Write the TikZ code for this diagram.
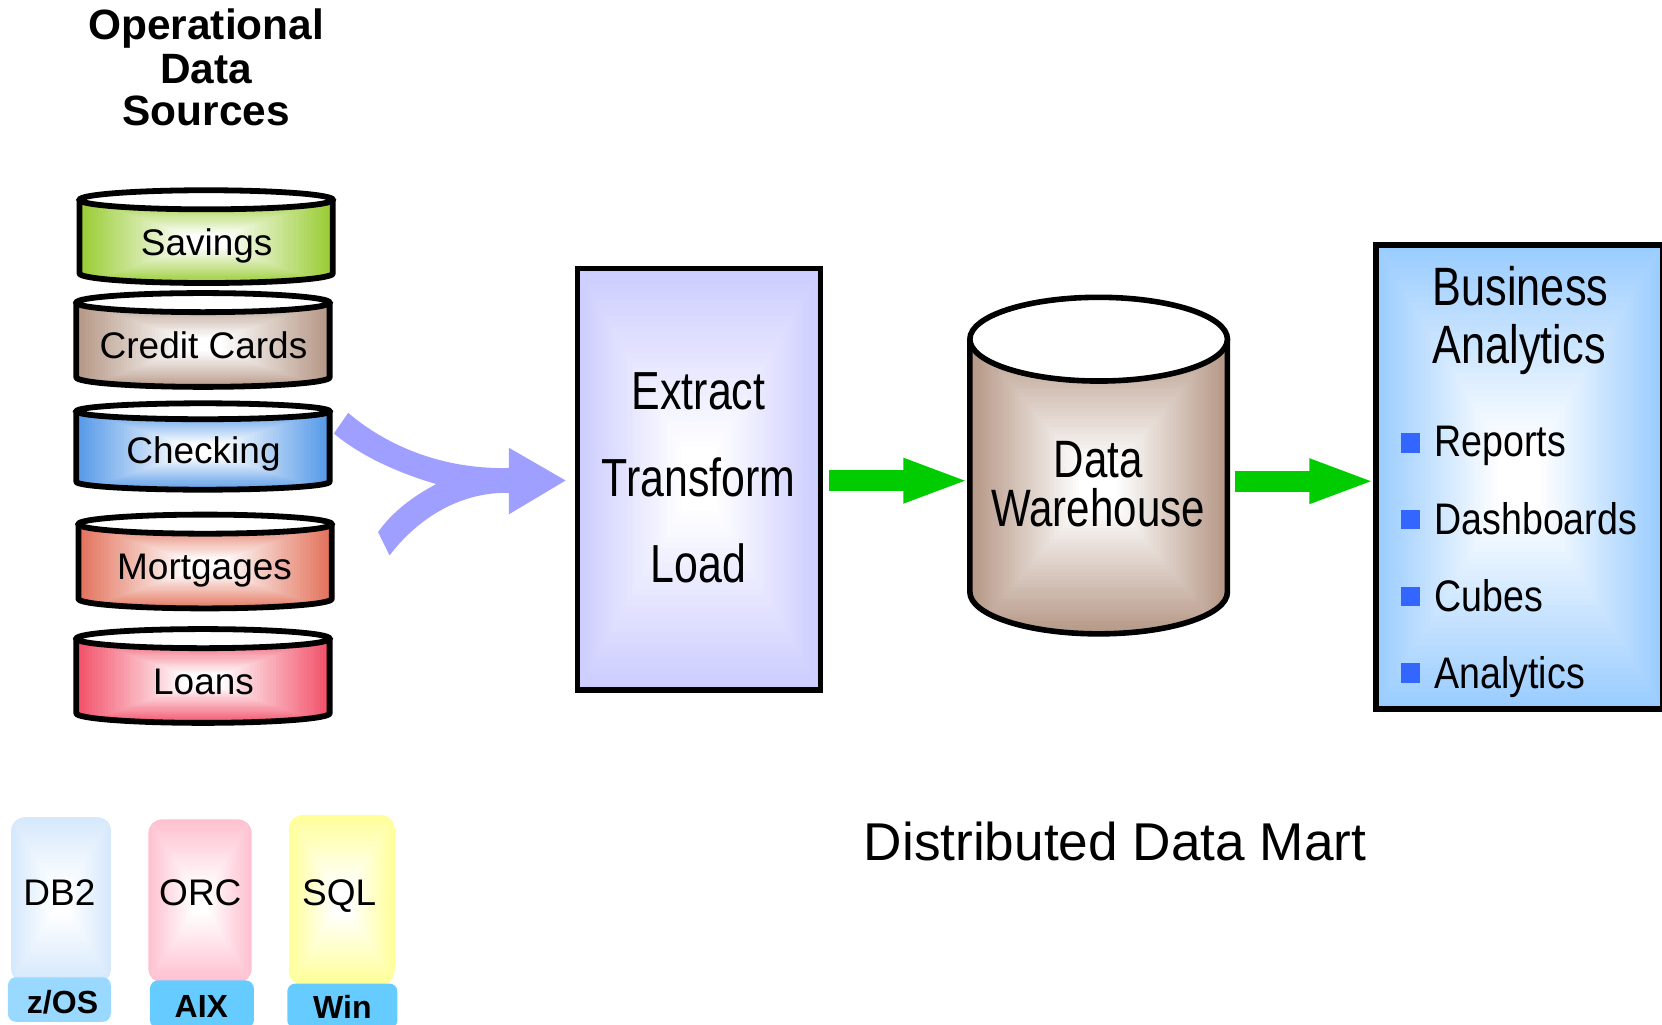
\documentclass[tikz,border=0pt]{standalone}
\usepackage{fontspec}
\setmainfont{Liberation Sans}
\newfontfamily\narrowfont[FakeStretch=0.8]{Liberation Sans}
\newfontfamily\listfont[FakeStretch=0.85]{Liberation Sans}
\usetikzlibrary{arrows.meta}
\definecolor{brownc}{HTML}{B59785}
\definecolor{greenc}{HTML}{99CC33}
\definecolor{bluec}{HTML}{5599E8}
\definecolor{salmonc}{HTML}{E2725B}
\definecolor{redc}{HTML}{F25068}
\definecolor{etlc}{HTML}{CCCCFF}
\definecolor{bac}{HTML}{99CCFF}
\definecolor{db2c}{HTML}{D5E8FC}
\definecolor{orcc}{HTML}{FFC0D0}
\definecolor{sqlc}{HTML}{FFFF99}
\definecolor{tabone}{HTML}{99D9FF}
\definecolor{tabtwo}{HTML}{66CCFF}
\definecolor{arrowc}{HTML}{00CC00}
\definecolor{mergec}{HTML}{9F9FFF}
\definecolor{bulletc}{HTML}{3366FF}
% nested rectangles: colour at the rim, white at the centre
\newcommand{\gradfill}[5]{%
  \foreach \i in {0,...,39}{%
    \pgfmathsetmacro\ff{1-\i/40}%
    \pgfmathsetmacro\pp{max(0,100*(1-\i/34))}%
    \fill[#5!\pp!white] ({#1-#3*\ff},{#2-#4*\ff}) rectangle ({#1+#3*\ff},{#2+#4*\ff});
  }%
}
% centre x, radius x, top centre y, bottom centre y, radius y, colour, line width
\newcommand{\drum}[7]{%
  \begin{scope}
    \clip (#1-#2,#3) arc[start angle=180,end angle=0,x radius=#2,y radius=#5] -- (#1+#2,#4)
      arc[start angle=0,end angle=180,x radius=#2,y radius=#5] -- cycle;
    \pgfmathsetmacro\gy{(#3+#4)/2+#5/2}
    \pgfmathsetmacro\gh{(#4-#3)/2+#5/2+2}
    \gradfill{#1}{\gy}{#2}{\gh}{#6}
  \end{scope}
  \draw[line width=#7,line join=round] (#1-#2,#3) -- (#1-#2,#4)
      arc[start angle=180,end angle=0,x radius=#2,y radius=#5] -- (#1+#2,#3);
  \draw[line width=#7,fill=white] (#1,#3) ellipse[x radius=#2,y radius=#5];
}
\newcommand{\softbox}[6]{% x0,y0,x1,y1,colour,radius
  \begin{scope}
    \clip[rounded corners=#6] (#1,#2) rectangle (#3,#4);
    \gradfill{(#1+#3)/2}{(#2+#4)/2}{(#3-#1)/2}{(#4-#2)/2}{#5}
  \end{scope}
}
\tikzset{
  x=0.53pt,y=-0.53pt,
  drumtext/.style={anchor=base,inner sep=0pt,font=\fontsize{18.5}{22}\selectfont},
  headtext/.style={anchor=base,inner sep=0pt,font=\fontsize{21.2}{24}\selectfont\bfseries},
  bigtext/.style={anchor=base,inner sep=0pt,font=\fontsize{26.8}{30}\selectfont\narrowfont},
  listtext/.style={anchor=base west,inner sep=0pt,font=\fontsize{22.1}{26}\selectfont\listfont},
  tabtext/.style={anchor=base,inner sep=0pt,font=\fontsize{16}{19}\selectfont\bfseries},
  frame/.style={draw=black,inner sep=0pt,line width=2.7pt},
  flow/.style={line width=10.3pt,draw=arrowc,-{Triangle[length=33.5pt,width=20pt]}},
  bulletsq/.style={fill=bulletc,draw=none,inner sep=0pt,minimum size=9.6pt},
}
\begin{document}
\begin{tikzpicture}
\useasboundingbox (0,0) rectangle (1568,967);
% heading
\node[headtext] (h1) at (194.5,37) {Operational};
\node[headtext] (h2) at (194.5,78.5) {Data};
\node[headtext] (h3) at (194.5,118.5) {Sources};
% source drums
\drum{194.5}{119.5}{188.5}{258}{9}{greenc}{2.9pt}
\node[drumtext] (savings) at (195,241) {Savings};
\drum{191.5}{119.5}{285.5}{356}{9}{brownc}{2.9pt}
\node[drumtext] (credit) at (192,338) {Credit Cards};
\drum{191.5}{119.5}{388}{454.5}{7.5}{bluec}{2.9pt}
\node[drumtext] (checking) at (192,437) {Checking};
\drum{193.5}{119.5}{494.5}{565}{9}{salmonc}{2.9pt}
\node[drumtext] (mortgages) at (193,547) {Mortgages};
\drum{191.5}{119.5}{602.5}{673}{9}{redc}{2.9pt}
\node[drumtext] (loans) at (192,655) {Loans};
% merging arrow
\fill[mergec] (328.5,389.5) .. controls (370,425) and (425,443) .. (480,441.5)
  -- (480,422.4) -- (533.6,453.3) -- (480,485.3) -- (480,465)
  .. controls (435,464) and (395,488) .. (367.5,524)
  -- (356.7,502) .. controls (370,483) and (390,468) .. (411.6,456.7)
  .. controls (375,446) and (340,430) .. (315,409) -- cycle;
% ETL
\gradfill{659.5}{452}{114.5}{199}{etlc}
\node[frame,minimum width=121.4pt,minimum height=210.9pt] (etl) at (659.5,452) {};
\node[bigtext] (extract) at (659,386) {Extract};
\node[bigtext] (transform) at (659,468) {Transform};
\node[bigtext] (load) at (659,550) {Load};
% warehouse
\drum{1036.5}{121.5}{320}{558.5}{39.5}{brownc}{2.8pt}
\coordinate (dwl) at (915,453.5);
\coordinate (dwr) at (1158,454);
\node[bigtext,font=\fontsize{26.3}{30}\selectfont\narrowfont] (data) at (1036,450.5) {Data};
\node[bigtext,font=\fontsize{26.3}{30}\selectfont\narrowfont] (warehouse) at (1036,497) {Warehouse};
% analytics panel
\gradfill{1433.5}{450}{135.5}{219}{bac}
\node[frame,line width=2.9pt,minimum width=143.5pt,minimum height=232.3pt] (ba) at (1433.5,450) {};
\node[bigtext,anchor=base west,font=\fontsize{27}{30}\selectfont\narrowfont] (business) at (1351.5,288.5) {Business};
\node[bigtext,anchor=base west,font=\fontsize{27}{30}\selectfont\narrowfont] (analytics) at (1351.5,342.5) {Analytics};
\node[bulletsq] (b1) at (1331,418) {};
\node[bulletsq] (b2) at (1331,490) {};
\node[bulletsq] (b3) at (1331,563) {};
\node[bulletsq] (b4) at (1331,635) {};
\node[listtext] (reports) at (1353,431) {Reports};
\node[listtext] (dash) at (1353,504) {Dashboards};
\node[listtext] (cubes) at (1353,576.5) {Cubes};
\node[listtext] (anal) at (1353,649.5) {Analytics};
% green arrows
\draw[flow] (etl.east |- dwl) ++(3pt,0) -- ([xshift=0.2pt]dwl);
\draw[flow] ([xshift=3.6pt]dwr) -- ([xshift=1.6pt]ba.west |- dwr);
% title
\node[drumtext,font=\fontsize{26.6}{30}\selectfont] (mart) at (1052,812) {Distributed Data Mart};
% platforms
\softbox{10.5}{771}{105}{927}{db2c}{7pt}
\softbox{140}{773}{237.5}{927}{orcc}{7pt}
\softbox{272.5}{769}{372.5}{929}{sqlc}{7pt}
\fill[tabone,rounded corners=4pt] (7.5,922) rectangle (104.5,964);
\fill[tabtwo,rounded corners=4pt] (141.5,925) rectangle (239.5,970);
\fill[tabtwo,rounded corners=4pt] (271,928) rectangle (375,970);
\node[drumtext] (db2) at (56,854) {DB2};
\node[drumtext] (orc) at (189,854) {ORC};
\node[drumtext] (sql) at (320,854) {SQL};
\node[tabtext] (zos) at (59,956) {z/OS};
\node[tabtext] (aix) at (190,960) {AIX};
\node[tabtext] (win) at (323,961) {Win};
\end{tikzpicture}
\end{document}
